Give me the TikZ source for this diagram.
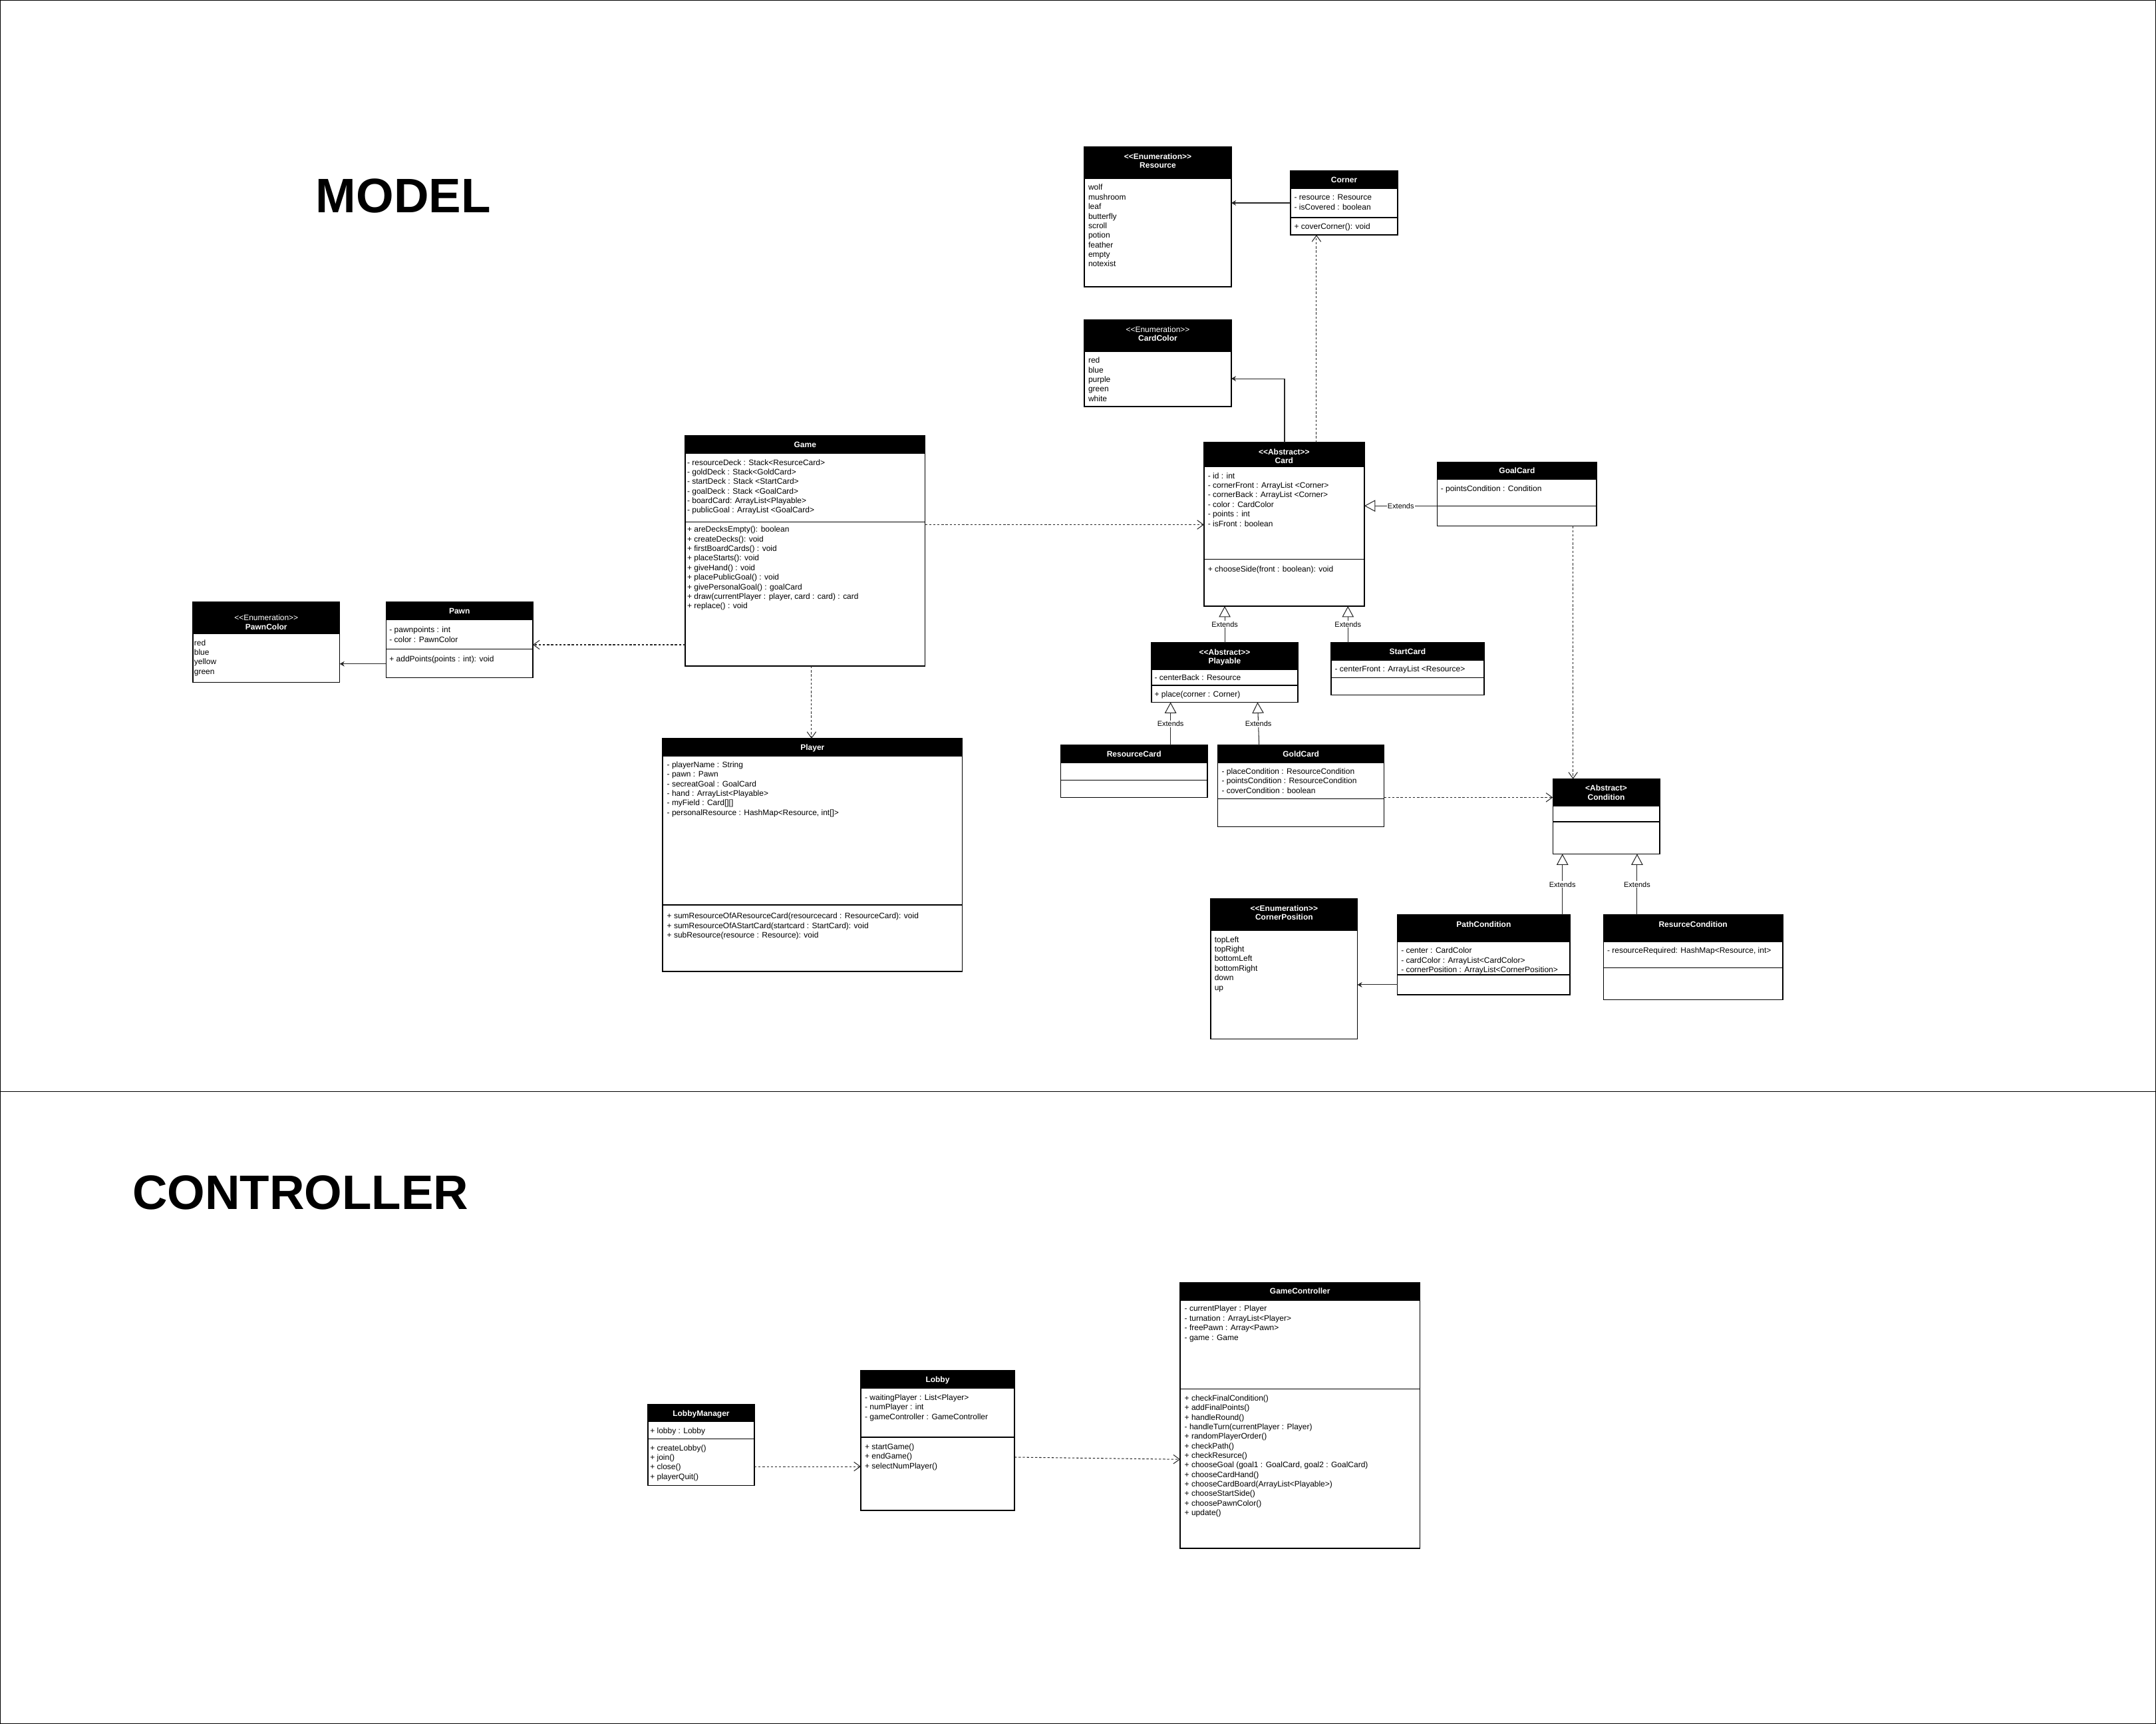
\documentclass[tikz,border=0pt]{standalone}
\usepackage{fontspec}
\setmainfont{Liberation Sans}
\usetikzlibrary{arrows.meta,calc}
\tikzset{
 clsbox/.style={draw=none, inner sep=0, outer sep=0},
 clsline/.style={line width=0.7pt, draw=black},
 txt/.style={anchor=base west, inner sep=0, outer sep=0, font=\fontsize{5.8}{6.95}\selectfont},
 hdr/.style={anchor=base, inner sep=0, outer sep=0, text=white, font=\fontsize{5.8}{6.95}\selectfont},
 conn/.style={line width=0.5pt, draw=black!85},
 assoc/.style={conn, -{Stealth[length=3.4pt,width=3.8pt]}},
 dep/.style={conn, dash pattern=on 1.6pt off 1.4pt, -{Straight Barb[length=4.5pt,width=6.5pt]}},
 ext/.style={conn, -{Triangle[open,length=8pt,width=8.5pt,fill=white]}},
 extlbl/.style={fill=white, inner sep=0.5pt, font=\fontsize{5.3}{6}\selectfont},
 titletext/.style={anchor=base, inner sep=0, font=\fontsize{35.2}{40}\selectfont\bfseries},
}
\newcommand\cls[6]{%
  \fill[black] (#2,#3) rectangle (#4,#6);
  \node[clsbox, minimum width={#4-#2}, minimum height={#5-#3}, anchor=north west] (#1) at (#2,#3) {};
  \draw[clsline] (#2,#3) rectangle (#4,#5);
  \draw[clsline] (#2,#6) -- (#4,#6);
}
\newcommand\dv[3]{\draw[clsline] (#1,#3) -- (#2,#3);}
\newcommand\hone[4]{\node[hdr] (#1-h) at (#2,{#3+2.05}) {\bfseries #4};}
\newcommand\htwo[5]{\node[hdr] (#1-h1) at (#2,{#3+2.05}) {#4};\node[hdr] (#1-h2) at (#2,{#3+6.6+2.05}) {#5};}
\newcommand\tl[4]{\foreach \itm [count=\nn] in {#4}{\node[txt] (#1-\nn) at (#2,{#3+(\nn-1)*6.95+2.05}) {\itm};}}
\begin{document}
\begin{tikzpicture}[x=1pt,y=-1pt]
\useasboundingbox (0,0) rectangle (1568,1253.5);
\draw[line width=0.6pt] (0.3,0.3) rectangle (1567.7,1253.2);
\draw[line width=0.6pt] (0,793.7) -- (1568,793.7);
\node[titletext] (tmodel) at (293.3,154.8) {MODEL};
\node[titletext] (tctrl) at (218.5,879.2) {CONTROLLER};

% Resource
\cls{Resource}{788.6}{107}{895.5}{208.5}{129.7}
\htwo{Resource}{842.05}{113.7}{\bfseries <{}<Enumeration>{}>}{\bfseries Resource}
\tl{Resource-i}{791.5}{136.3}{wolf,mushroom,leaf,butterfly,scroll,potion,feather,empty,notexist}

% Corner
\cls{Corner}{938.6}{124.3}{1016.5}{170.8}{136.9}
\dv{938.6}{1016.5}{158.2}
\hone{Corner}{977.55}{130.8}{Corner}
\tl{Corner-a}{941.3}{143.5}{- resource : Resource,- isCovered : boolean}
\tl{Corner-m}{941.3}{164.5}{+ coverCorner(): void}

% CardColor
\cls{CardColor}{788.6}{232.7}{895.5}{295.6}{255.4}
\htwo{CardColor}{842.05}{239.5}{<{}<Enumeration>{}>}{\bfseries CardColor}
\tl{CardColor-i}{791.5}{262}{red,blue,purple,green,white}

% Game
\cls{Game}{498.4}{316.6}{672.7}{484.3}{329.5}
\dv{498.4}{672.7}{379.5}
\hone{Game}{585.55}{323.1}{Game}
\tl{Game-a}{499.8}{336.2}{- resourceDeck : Stack<ResurceCard>,- goldDeck : Stack<GoldCard>,- startDeck : Stack <StartCard>,- goalDeck : Stack <GoalCard>,- boardCard: ArrayList<Playable>,- publicGoal : ArrayList <GoalCard>}
\tl{Game-m}{499.8}{384.9}{+ areDecksEmpty(): boolean,+ createDecks(): void,+ firstBoardCards() : void,+ placeStarts(): void,+ giveHand() : void,+ placePublicGoal() : void,+ givePersonalGoal() : goalCard,{+ draw(currentPlayer : player, card : card) : card},+ replace() : void}

% Card
\cls{Card}{875.6}{321.7}{992.2}{440.7}{339.2}
\dv{875.6}{992.2}{406.7}
\htwo{Card}{933.9}{328.5}{\bfseries <{}<Abstract>{}>}{\bfseries Card}
\tl{Card-a}{878.5}{345.9}{- id : int,- cornerFront : ArrayList <Corner>,- cornerBack : ArrayList <Corner>,- color : CardColor,- points : int,- isFront : boolean}
\tl{Card-m}{878.5}{413.6}{+ chooseSide(front : boolean): void}

% GoalCard
\cls{GoalCard}{1045.3}{335.9}{1161.2}{382.4}{348.7}
\dv{1045.3}{1161.2}{367.8}
\hone{GoalCard}{1103.25}{342.4}{GoalCard}
\tl{GoalCard-a}{1047.8}{355.1}{- pointsCondition : Condition}

% PawnColor
\cls{PawnColor}{140.2}{437.5}{247.1}{496.2}{460.7}
\htwo{PawnColor}{193.65}{449.1}{<{}<Enumeration>{}>}{\bfseries PawnColor}
\tl{PawnColor-i}{141.2}{467.3}{red,blue,yellow,green}

% Pawn
\cls{Pawn}{280.8}{437.8}{387.5}{492.7}{450.7}
\dv{280.8}{387.5}{472}
\hone{Pawn}{334.15}{444.3}{Pawn}
\tl{Pawn-a}{283.2}{458}{- pawnpoints : int,- color : PawnColor}
\tl{Pawn-m}{283.2}{479}{+ addPoints(points : int): void}

% Player
\cls{Player}{481.9}{537}{699.9}{706.4}{549.9}
\dv{481.9}{699.9}{658}
\hone{Player}{590.9}{543.5}{Player}
\tl{Player-a}{485.1}{556}{- playerName : String,- pawn : Pawn,- secreatGoal : GoalCard,- hand : ArrayList<Playable>,- myField : Card[][],{- personalResource : HashMap<Resource, int[]>}}
\tl{Player-m}{485.1}{666}{+ sumResourceOfAResourceCard(resourcecard : ResourceCard): void,+ sumResourceOfAStartCard(startcard : StartCard): void,+ subResource(resource : Resource): void}

% Playable
\cls{Playable}{837.4}{467.3}{943.9}{510.6}{486.7}
\dv{837.4}{943.9}{498.2}
\htwo{Playable}{890.65}{474.1}{\bfseries <{}<Abstract>{}>}{\bfseries Playable}
\tl{Playable-a}{839.7}{492.7}{- centerBack : Resource}
\tl{Playable-m}{839.7}{504.7}{+ place(corner : Corner)}

% StartCard
\cls{StartCard}{968}{467.3}{1079.3}{505.3}{480.2}
\dv{968}{1079.3}{492.7}
\hone{StartCard}{1023.65}{473.8}{StartCard}
\tl{StartCard-a}{970.8}{486.5}{- centerFront : ArrayList <Resource>}

% ResourceCard
\cls{ResourceCard}{771.5}{541.9}{878}{579.8}{554.8}
\dv{771.5}{878}{567.3}
\hone{ResourceCard}{824.75}{548.4}{ResourceCard}

% GoldCard
\cls{GoldCard}{885.7}{541.9}{1006.6}{601}{554.8}
\dv{885.7}{1006.6}{580.9}
\hone{GoldCard}{946.15}{548.4}{GoldCard}
\tl{GoldCard-a}{888.5}{560.9}{- placeCondition : ResourceCondition,- pointsCondition : ResourceCondition,- coverCondition : boolean}

% Condition
\cls{Condition}{1129.3}{566.4}{1207}{620.9}{586.2}
\dv{1129.3}{1207}{597.5}
\htwo{Condition}{1168.15}{573}{\bfseries <Abstract>}{\bfseries Condition}

% CornerPosition
\cls{CornerPosition}{880.6}{653.6}{987.2}{755.5}{676.5}
\htwo{CornerPosition}{933.9}{660.4}{\bfseries <{}<Enumeration>{}>}{\bfseries CornerPosition}
\tl{CornerPosition-i}{883.3}{683.1}{topLeft,topRight,bottomLeft,bottomRight,down,up}

% PathCondition
\cls{PathCondition}{1016.3}{665.2}{1141.8}{723.3}{684.6}
\dv{1016.3}{1141.8}{708.8}
\hone{PathCondition}{1079.05}{672}{PathCondition}
\tl{PathCondition-a}{1019}{691.2}{- center : CardColor,- cardColor : ArrayList<CardColor>,- cornerPosition : ArrayList<CornerPosition>}

% ResurceCondition
\cls{ResurceCondition}{1166.2}{665.2}{1296.5}{727}{684.6}
\dv{1166.2}{1296.5}{703.6}
\hone{ResurceCondition}{1231.35}{672}{ResurceCondition}
\tl{ResurceCondition-a}{1168.9}{691.2}{{- resourceRequired: HashMap<Resource, int>}}

% LobbyManager
\cls{LobbyManager}{471.2}{1021.1}{548.6}{1080.2}{1033.7}
\dv{471.2}{548.6}{1046.1}
\hone{LobbyManager}{509.9}{1027.6}{LobbyManager}
\tl{LobbyManager-a}{472.8}{1040.2}{+ lobby : Lobby}
\tl{LobbyManager-m}{472.8}{1052.7}{+ createLobby(),+ join(),+ close(),+ playerQuit()}

% Lobby
\cls{Lobby}{626}{996.6}{737.8}{1098.2}{1009.5}
\dv{626}{737.8}{1045}
\hone{Lobby}{681.9}{1003.1}{Lobby}
\tl{Lobby-a}{629}{1016}{- waitingPlayer : List<Player>,- numPlayer : int,- gameController : GameController}
\tl{Lobby-m}{629}{1051.9}{+ startGame(),+ endGame(),+ selectNumPlayer()}

% GameController
\cls{GameController}{858.3}{932.4}{1032.6}{1125.7}{945.4}
\dv{858.3}{1032.6}{1010}
\hone{GameController}{945.45}{938.9}{GameController}
\tl{GameController-a}{861.5}{951.5}{- currentPlayer : Player,- turnation : ArrayList<Player>,- freePawn : Array<Pawn>,- game : Game}
\tl{GameController-m}{861.5}{1016.5}{+ checkFinalCondition(),+ addFinalPoints(),+ handleRound(),- handleTurn(currentPlayer : Player),+ randomPlayerOrder(),+ checkPath(),+ checkResurce(),{+ chooseGoal (goal1 : GoalCard, goal2 : GoalCard)},+ chooseCardHand(),+ chooseCardBoard(ArrayList<Playable>),+ chooseStartSide(),+ choosePawnColor(),+ update()}

% ---------- connectors ----------
\coordinate (k1) at (934.2,275.3);
\coordinate (k2) at (957.4,0);
\coordinate (k3) at (0,381.5);
\coordinate (k4) at (0,468.8);
\coordinate (k5) at (0,482.7);
\coordinate (k6) at (590.2,0);
\coordinate (k7) at (890.7,0);
\coordinate (k8) at (980.3,0);
\coordinate (k9) at (0,367.8);
\coordinate (k10) at (851.3,0);
\coordinate (k11) at (915.7,0);
\coordinate (k12) at (914.6,0);
\coordinate (k13) at (0,579.8);
\coordinate (k14) at (1144,0);
\coordinate (k15) at (1136.3,0);
\coordinate (k16) at (1190.6,0);
\coordinate (k17) at (0,716);
\coordinate (k18) at (0,1066.3);
\coordinate (k19) at (0,1059.5);
\coordinate (k20) at (0,1061.1);

\draw[assoc] (Corner.west) -- (Corner.west -| Resource.east);
\draw[assoc] (Card.north -| k1) |- (CardColor.east |- k1);
\draw[dep] (Card.north -| k2) -- (Corner.south -| k2);
\draw[dep] (Game.east |- k3) -- (Card.west |- k3);
\draw[dep] (Game.west |- k4) -- (Pawn.east |- k4);
\draw[assoc] (Pawn.west |- k5) -- (PawnColor.east |- k5);
\draw[dep] (Game.south -| k6) -- (Player.north -| k6);
\draw[ext] (Playable.north -| k7) -- node[extlbl] {Extends} (Card.south -| k7);
\draw[ext] (StartCard.north -| k8) -- node[extlbl] {Extends} (Card.south -| k8);
\draw[ext] (GoalCard.west |- k9) -- node[extlbl] {Extends} (Card.east |- k9);
\draw[ext] (ResourceCard.north -| k10) -- node[extlbl] {Extends} (Playable.south -| k10);
\draw[ext] (GoldCard.north -| k11) -- node[extlbl] {Extends} (Playable.south -| k12);
\draw[dep] (GoldCard.east |- k13) -- (Condition.west |- k13);
\draw[dep] (GoalCard.south -| k14) -- (Condition.north -| k14);
\draw[ext] (PathCondition.north -| k15) -- node[extlbl] {Extends} (Condition.south -| k15);
\draw[ext] (ResurceCondition.north -| k16) -- node[extlbl] {Extends} (Condition.south -| k16);
\draw[assoc] (PathCondition.west |- k17) -- (CornerPosition.east |- k17);
\draw[dep] (LobbyManager.east |- k18) -- (Lobby.west |- k18);
\draw[dep] (Lobby.east |- k19) -- (GameController.west |- k20);
\end{tikzpicture}
\end{document}
